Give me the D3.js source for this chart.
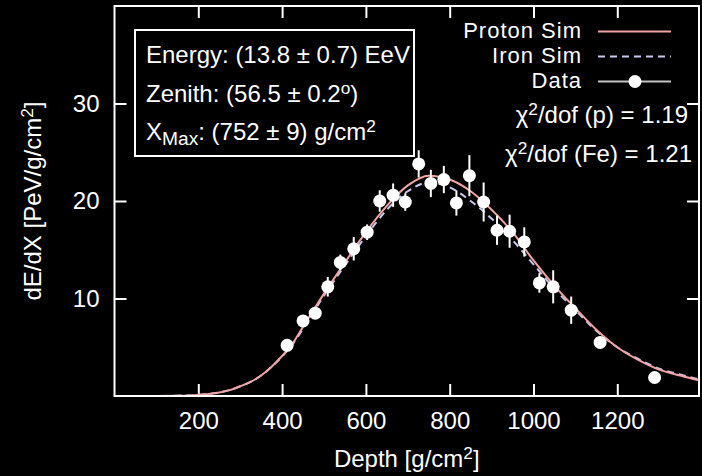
<!DOCTYPE html>
<html>
<head>
<meta charset="utf-8">
<script src="https://cdn.jsdelivr.net/npm/d3@7"></script>
<style>
  body { margin: 0; background: #000; }
  svg { display: block; font-family: "Liberation Sans", Arial, sans-serif; }
</style>
</head>
<body>
<svg id="chart" width="702" height="476"></svg>
<script>
// measured shower profile
const depth = [412, 450, 479, 509, 539, 571, 603, 633, 665, 694, 726, 755, 786, 816, 847, 881, 913, 943, 978, 1014, 1047, 1090, 1159, 1289]
const dEdX = [5.2, 7.7, 8.5, 11.2, 13.7, 15.1, 16.8, 20.0, 20.6, 19.9, 23.8, 21.8, 22.2, 19.8, 22.6, 19.9, 17.0, 16.9, 15.8, 11.6, 11.2, 8.8, 5.5, 1.9]
const dEdXErr = [0.4, 0.5, 0.6, 1.0, 0.8, 1.2, 0.8, 1.1, 1.2, 0.9, 1.4, 1.4, 1.4, 1.3, 2.1, 2.0, 1.5, 1.7, 1.5, 1.0, 1.7, 1.4, 0.6, 0.5]

// simulated profiles
const simDepth = [0, 100, 150, 200, 225, 250, 275, 300, 325, 350, 375, 400, 425, 450, 500, 550, 600, 650, 700, 750, 800, 850, 900, 950, 1000, 1050, 1100, 1150, 1200, 1250, 1300, 1350, 1395]
const protonSim = [0, 0, 0.02, 0.1, 0.2, 0.35, 0.6, 1.0, 1.45, 2.1, 3.0, 4.1, 5.4, 7.1, 10.5, 13.7, 16.8, 19.5, 21.6, 22.6, 22.2, 21.0, 19.1, 16.8, 13.9, 11.3, 9.0, 6.8, 5.0, 3.7, 2.7, 2.1, 1.6]
const ironSim = [0, 0, 0.03, 0.12, 0.22, 0.38, 0.62, 1.0, 1.45, 2.1, 3.0, 4.05, 5.3, 6.9, 10.3, 13.4, 16.4, 19.1, 21.0, 21.9, 21.4, 20.0, 18.2, 16.0, 13.5, 11.0, 8.8, 6.7, 5.0, 3.8, 2.8, 2.2, 1.7]

const xTicks = [200, 400, 600, 800, 1000, 1200]
const yTicks = [10, 20, 30]

const legendNames = ['Proton Sim', 'Iron Sim', 'Data']
const infoLines = [
  [{t: 'Energy: (13.8 ± 0.7) EeV'}],
  [{t: 'Zenith: (56.5 ± 0.2'}, {t: 'o', sup: true}, {t: ')'}],
  [{t: 'X'}, {t: 'Max', sub: true}, {t: ': (752 ± 9) g/cm'}, {t: '2', sup: true}]
]
const chiLines = [
  [{t: 'χ'}, {t: '2', sup: true}, {t: '/dof (p) = 1.19'}],
  [{t: 'χ'}, {t: '2', sup: true}, {t: '/dof (Fe) = 1.21'}]
]

const protonColor = '#f2a3a3'
const ironColor = '#c9c9f2'
const fs = 24

const svg = d3.select('#chart')
const mLeft = 114.5, mRight = 699, mTop = 6, mBottom = 396

const x = d3.scaleLinear().domain([0, 1395]).range([mLeft, mRight])
const y = d3.scaleLinear().domain([0, 40]).range([mBottom, mTop])

svg.append('defs').append('clipPath').attr('id', 'clip')
  .append('rect')
  .attr('x', mLeft).attr('y', mTop)
  .attr('width', mRight - mLeft).attr('height', mBottom - mTop)

// axes (ticks point inward on all four sides)
const axisStyle = g => {
  g.select('.domain').remove()
  g.selectAll('line').attr('stroke', '#fff').attr('stroke-width', 2)
  g.selectAll('text').attr('fill', '#fff').attr('font-size', fs).attr('font-family', 'inherit')
}

svg.append('g')
  .attr('transform', `translate(0,${mBottom})`)
  .call(d3.axisBottom(x).tickValues(xTicks).tickFormat(d3.format('d')).tickSize(-12).tickPadding(16))
  .call(axisStyle)

svg.append('g')
  .attr('transform', `translate(0,${mTop})`)
  .call(d3.axisTop(x).tickValues(xTicks).tickSize(-12).tickFormat(''))
  .call(axisStyle)

svg.append('g')
  .attr('transform', `translate(${mLeft},0)`)
  .call(d3.axisLeft(y).tickValues(yTicks).tickSize(-12).tickPadding(15))
  .call(axisStyle)

svg.append('g')
  .attr('transform', `translate(${mRight},0)`)
  .call(d3.axisRight(y).tickValues(yTicks).tickSize(-12).tickFormat(''))
  .call(axisStyle)

// curves
const line = d3.line()
  .x((d, i) => x(simDepth[i]))
  .y(d => y(d))
  .curve(d3.curveMonotoneX)

const curves = svg.append('g').attr('clip-path', 'url(#clip)')

curves.append('path')
  .attr('d', line(ironSim))
  .attr('fill', 'none')
  .attr('stroke', ironColor)
  .attr('stroke-width', 2)
  .attr('stroke-dasharray', '7,5')

curves.append('path')
  .attr('d', line(protonSim))
  .attr('fill', 'none')
  .attr('stroke', protonColor)
  .attr('stroke-width', 2)

// data with error bars
const pts = svg.append('g').selectAll('g')
  .data(depth.map((d, i) => ({x: d, y: dEdX[i], e: dEdXErr[i]})))
  .join('g')

pts.append('line')
  .attr('x1', d => x(d.x)).attr('x2', d => x(d.x))
  .attr('y1', d => y(d.y - d.e)).attr('y2', d => y(d.y + d.e))
  .attr('stroke', '#fff')
  .attr('stroke-width', 2)

pts.append('circle')
  .attr('cx', d => x(d.x))
  .attr('cy', d => y(d.y))
  .attr('r', 6.5)
  .attr('fill', '#fff')

// frame
svg.append('rect')
  .attr('x', mLeft).attr('y', mTop)
  .attr('width', mRight - mLeft).attr('height', mBottom - mTop)
  .attr('fill', 'none')
  .attr('stroke', '#fff')
  .attr('stroke-width', 2)

function richText(sel, parts) {
  parts.forEach(p => {
    const ts = sel.append('tspan').text(p.t)
    if (p.sup) ts.attr('baseline-shift', '45%').attr('font-size', fs * 0.72)
    if (p.sub) ts.attr('baseline-shift', '-25%').attr('font-size', fs * 0.8)
  })
}

// info box
svg.append('rect')
  .attr('x', 135).attr('y', 30)
  .attr('width', 279).attr('height', 126)
  .attr('fill', '#000')
  .attr('stroke', '#fff')
  .attr('stroke-width', 2)

infoLines.forEach((parts, i) => {
  const t = svg.append('text')
    .attr('x', 146).attr('y', 63 + i * 38.5)
    .attr('fill', '#fff').attr('font-size', fs)
  richText(t, parts)
})

// legend
legendNames.forEach((name, i) => {
  const ly = 31.5 + i * 25
  svg.append('text')
    .attr('x', 582).attr('y', ly + 6.5)
    .attr('text-anchor', 'end')
    .attr('fill', '#fff').attr('font-size', 22)
    .attr('letter-spacing', 1)
    .text(name)
  const l = svg.append('line')
    .attr('x1', 598).attr('x2', 671)
    .attr('y1', ly).attr('y2', ly)
    .attr('stroke-width', 2)
  if (i === 0) l.attr('stroke', protonColor)
  if (i === 1) l.attr('stroke', ironColor).attr('stroke-dasharray', '7,5')
  if (i === 2) {
    l.attr('stroke', '#c4c4c4')
    svg.append('circle').attr('cx', 635).attr('cy', ly).attr('r', 6.5).attr('fill', '#fff')
  }
})

chiLines.forEach((parts, i) => {
  const t = svg.append('text')
    .attr('x', [688, 692][i]).attr('y', 123 + i * 39)
    .attr('text-anchor', 'end')
    .attr('fill', '#fff').attr('font-size', fs)
  richText(t, parts)
})

// axis titles
const xt = svg.append('text')
  .attr('x', (mLeft + mRight) / 2).attr('y', 467)
  .attr('text-anchor', 'middle')
  .attr('fill', '#fff').attr('font-size', fs)
richText(xt, [{t: 'Depth [g/cm'}, {t: '2', sup: true}, {t: ']'}])

const yt = svg.append('text')
  .attr('transform', `translate(41,${(mTop + mBottom) / 2}) rotate(-90)`)
  .attr('text-anchor', 'middle')
  .attr('fill', '#fff').attr('font-size', fs)
richText(yt, [{t: 'dE/dX [PeV/g/cm'}, {t: '2', sup: true}, {t: ']'}])
</script>
</body>
</html>
